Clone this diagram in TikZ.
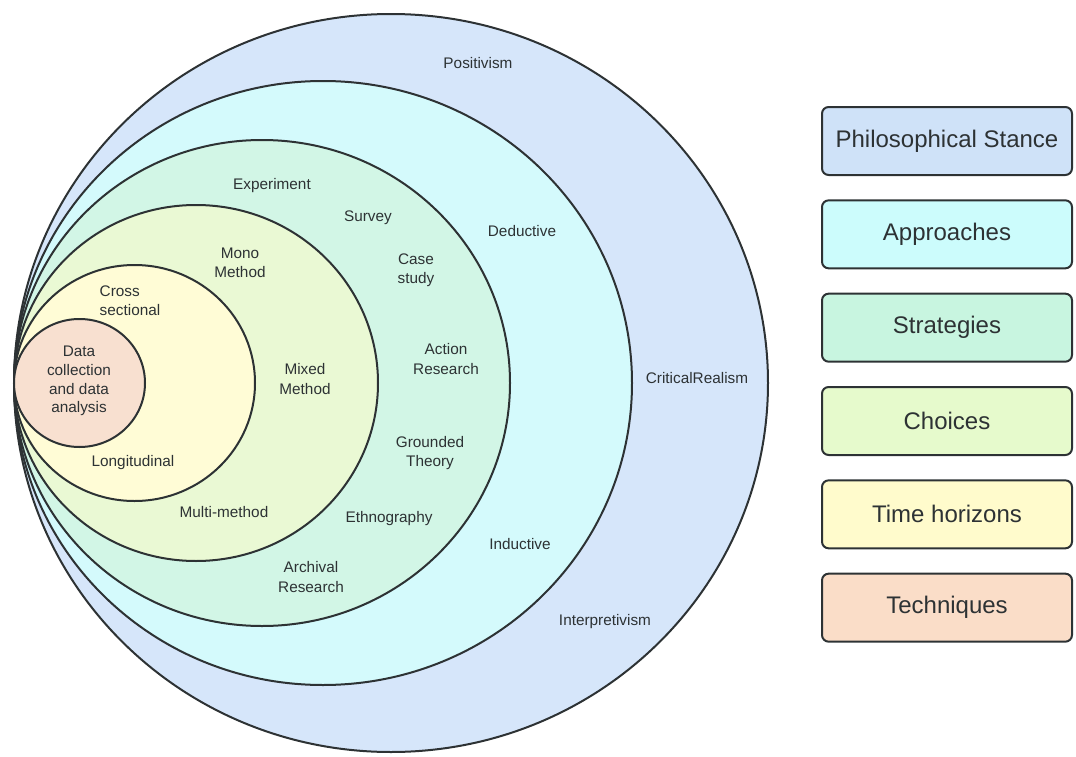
\documentclass[tikz,border=0pt]{standalone}
\usepackage{fontspec}
\setmainfont{Liberation Sans}
\usetikzlibrary{positioning}

\definecolor{ringline}{RGB}{45,50,52}
\definecolor{labelgray}{RGB}{45,50,52}
\definecolor{stanceblue}{RGB}{214,230,250}
\definecolor{approachcyan}{RGB}{212,250,252}
\definecolor{strategymint}{RGB}{210,246,230}
\definecolor{choicegreen}{RGB}{234,249,212}
\definecolor{timeyellow}{RGB}{255,252,214}
\definecolor{techpeach}{RGB}{248,224,208}
\definecolor{keystance}{RGB}{207,226,248}
\definecolor{keyapproach}{RGB}{204,252,252}
\definecolor{keystrategy}{RGB}{200,245,224}
\definecolor{keychoice}{RGB}{230,250,204}
\definecolor{keytime}{RGB}{255,251,204}
\definecolor{keytech}{RGB}{250,221,200}

\begin{document}
\begin{tikzpicture}[x=0.75pt,y=0.75pt,yscale=-1,xscale=1,
  ring/.style={draw=ringline, line width=1.5pt},
  lbl/.style={text=labelgray, font=\fontsize{11.5}{14.5}\selectfont, inner sep=0.75pt, align=center},
  key/.style={draw=ringline, line width=1.5pt, rounded corners=5pt, minimum width=187.5pt, minimum height=51pt, text=labelgray, font=\fontsize{18}{21}\selectfont}]
\useasboundingbox (0,0) rectangle (1076,757);

%Shape: Circle [Philosophical Stance]
\draw[ring, fill=stanceblue] (391,383) ellipse [x radius=377, y radius=369];
%Shape: Circle [Approaches]
\draw[ring, fill=approachcyan] (323,383) ellipse [x radius=309, y radius=302];
%Shape: Circle [Strategies]
\draw[ring, fill=strategymint] (262,383) ellipse [x radius=248, y radius=243];
%Shape: Circle [Choices]
\draw[ring, fill=choicegreen] (196,383) ellipse [x radius=182, y radius=178];
%Shape: Circle [Time horizons]
\draw[ring, fill=timeyellow] (134.5,383) ellipse [x radius=120.5, y radius=118];
%Shape: Circle [Techniques]
\draw[ring, fill=techpeach] (79.5,383) ellipse [x radius=65.5, y radius=64];

% Text Node
\node[lbl] (positivism) at (478,63) {Positivism};
\node[lbl] (deductive) at (522,231) {Deductive};
\node[lbl] (critical) at (697,378) {CriticalRealism};
\node[lbl] (inductive) at (520,544) {Inductive};
\node[lbl] (interpretivism) at (605,622) {Interpretivism};
% Text Node
\node[lbl] (experiment) at (272,186) {Experiment};
\node[lbl] (survey) at (368,218) {Survey};
\node[lbl] (casestudy) at (416,270) {Case\\study};
\node[lbl] (action) at (446,359) {Action\\Research};
\node[lbl] (grounded) at (430,453) {Grounded\\Theory};
\node[lbl] (ethnography) at (389,519) {Ethnography};
\node[lbl] (archival) at (311,577) {Archival\\Research};
% Text Node
\node[lbl] (mono) at (240,263) {Mono\\Method};
\node[lbl] (mixed) at (305,379) {Mixed\\Method};
\node[lbl] (multi) at (224,512) {Multi-method};
% Text Node
\node[lbl, align=left] (cross) at (130,301) {Cross\\sectional};
\node[lbl] (longitudinal) at (133,463) {Longitudinal};
\node[lbl, font=\fontsize{11.5}{14}\selectfont] (datacoll) at (79,381) {Data\\collection\\and data\\analysis};

% Legend
\node[key, fill=keystance] (stance) at (947,141) {Philosophical Stance};
\node[key, fill=keyapproach, below=17.5pt of stance] (approaches) {Approaches};
\node[key, fill=keystrategy, below=17.5pt of approaches] (strategies) {Strategies};
\node[key, fill=keychoice, below=17.5pt of strategies] (choices) {Choices};
\node[key, fill=keytime, below=17.5pt of choices] (timehor) {Time horizons};
\node[key, fill=keytech, below=17.5pt of timehor] (techniques) {Techniques};

\end{tikzpicture}
\end{document}
